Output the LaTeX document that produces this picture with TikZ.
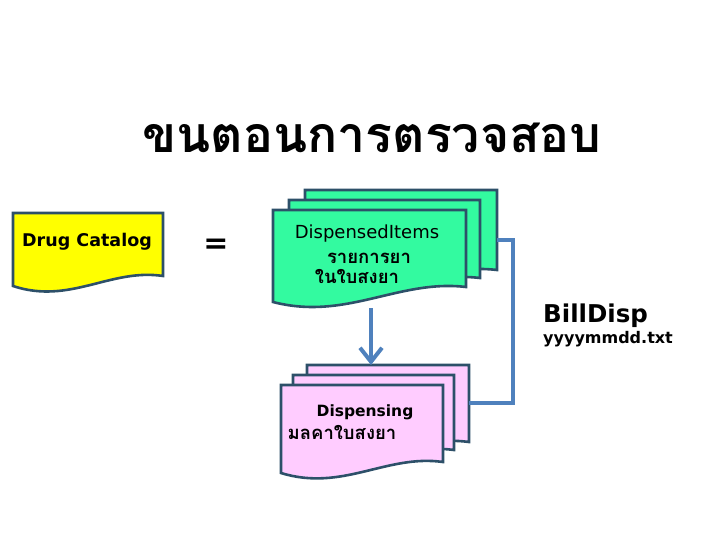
\documentclass[tikz,border=0pt]{standalone}
\usepackage{fontspec}
\setmainfont{DejaVu Sans}
\newfontfamily\thaifont[Script=Thai]{Loma}
\usetikzlibrary{arrows.meta}

\definecolor{docyellow}{RGB}{255,255,0}
\definecolor{docgreen}{RGB}{51,250,160}
\definecolor{docpink}{RGB}{255,204,255}
\definecolor{docborder}{RGB}{45,80,105}
\definecolor{flowblue}{RGB}{79,129,189}

% foglio documento: colore, x sinistra, y alto, x destra, y basso sx, y basso dx
\newcommand{\docsheet}[6]{%
  \draw[docline, fill=#1] (#2,#3) -- (#4,#3) -- (#4,#6)
    .. controls ({#4-0.35*(#4-#2)},{#6-8}) and ({#2+0.38*(#4-#2)},{#5+19}) .. (#2,#5) -- cycle;
}

\tikzset{
  docline/.style={draw=docborder, line width=2.6pt, line join=miter},
  flow/.style={draw=flowblue, line width=4pt, line join=miter},
  label/.style={inner sep=0pt, anchor=base},
}

\begin{document}
\begin{tikzpicture}[x=1pt, y=-1pt]
				\useasboundingbox (0,0) rectangle (720,540);
				
				% Titolo
				\node[label, font=\thaifont\bfseries\fontsize{50}{60}\selectfont] (title) at (372,153) {ขนตอนการตรวจสอบ};
				
				% Drug Catalog
				\docsheet{docyellow}{13}{213}{163}{286}{276}
				\node[label, font=\bfseries\fontsize{17.5}{20}\selectfont] (catalog) at (87,247) {Drug Catalog};
				\node[label, font=\bfseries\fontsize{30}{30}\selectfont] (equal) at (216,254) {=};
				
				% Pila DispensedItems
				\docsheet{docgreen}{305}{190}{497}{285}{270}
				\docsheet{docgreen}{289}{200}{480}{293}{278}
				\docsheet{docgreen}{273}{210}{466}{302}{287}
				\node[label, font=\fontsize{18}{20}\selectfont] (items) at (367,238) {DispensedItems};
				\node[label, font=\thaifont\bfseries\fontsize{18.5}{20}\selectfont] (itemsth) at (369,263) {รายการยา};
				\node[label, font=\thaifont\bfseries\fontsize{18.5}{20}\selectfont] (itemsrx) at (357,283) {ในใบสงยา};
				
				% Pila Dispensing
				\docsheet{docpink}{307}{365}{469}{452}{442}
				\docsheet{docpink}{293}{375}{454}{462}{450}
				\docsheet{docpink}{281}{385}{443}{473}{462}
				\node[label, font=\bfseries\fontsize{15.5}{18}\selectfont] (dispensing) at (365,416) {Dispensing};
				\node[label, font=\thaifont\bfseries\fontsize{18.5}{20}\selectfont] (dispvalue) at (342,439) {มลคาใบสงยา};
				
				% BillDisp
				\node[label, anchor=base west, font=\bfseries\fontsize{24.5}{28}\selectfont] (bill) at (543,322) {BillDisp};
				\node[label, anchor=base west, font=\bfseries\fontsize{16}{18}\selectfont] (billfile) at (543,343) {yyyymmdd.txt};
				
				% Collegamenti
				\coordinate (itemsbottom) at (371,308);
				\coordinate (disptop) at (371,365);
				\coordinate (dispright) at (469,403);
				\coordinate (itemsright) at (497,240);
				\draw[flow, -{Straight Barb[length=14pt, width=22pt, line width=4pt]}] (itemsbottom) -- (disptop);
				\draw[flow] (dispright) -- ++(44,0) |- (itemsright);
			\end{tikzpicture}
\end{document}
